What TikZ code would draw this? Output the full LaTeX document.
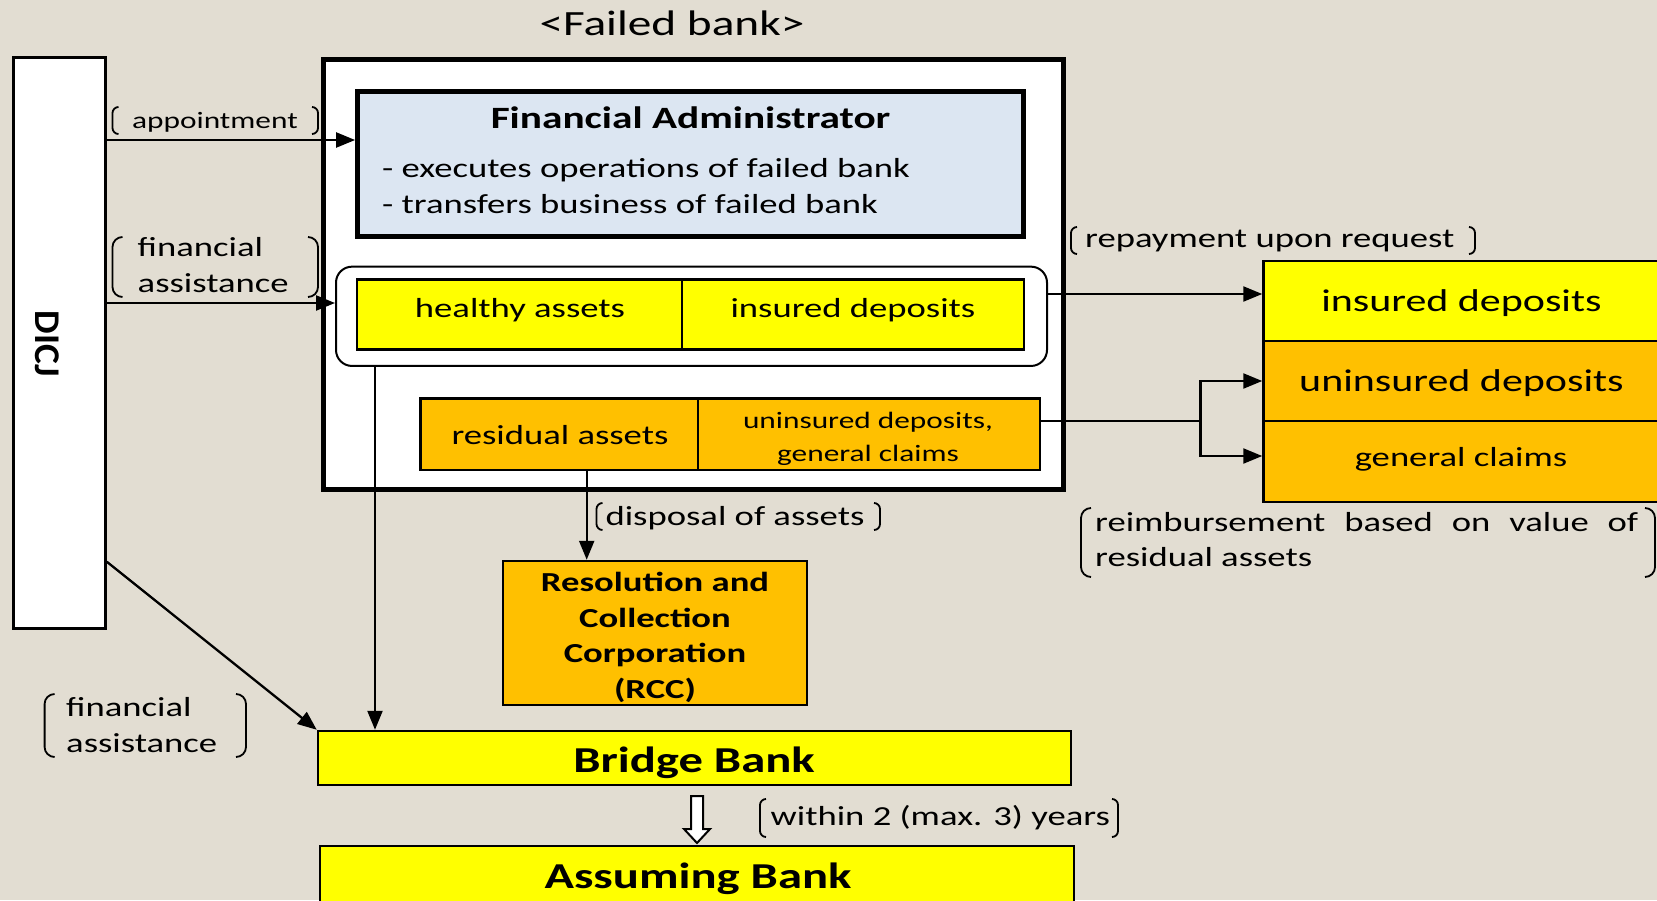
\documentclass[tikz,border=0pt]{standalone}
\usepackage{fontspec}
\setmainfont{Carlito}[FakeStretch=1.333]
\newfontfamily\plainfont{Carlito}
\usepackage{graphicx}
\usetikzlibrary{arrows.meta}
\definecolor{bg}{HTML}{E2DDD2}
\definecolor{fablue}{HTML}{DCE6F2}
\definecolor{yel}{HTML}{FFFF00}
\definecolor{org}{HTML}{FFC000}
\newcommand\fs[2]{\fontsize{#1pt}{#2pt}\selectfont}
\newcommand\bpair[5]{%
 \draw[brk, rounded corners=#5pt] (#1+#5,#2) -- (#1,#2) -- (#1,#4) -- (#1+#5,#4);
 \draw[brk, rounded corners=#5pt] (#3-#5,#2) -- (#3,#2) -- (#3,#4) -- (#3-#5,#4);}
\begin{document}
\begin{tikzpicture}[x=1pt,y=-1pt,
  box/.style={draw, line width=2.5pt, inner sep=0pt},
  thickbox/.style={draw, line width=5pt, inner sep=0pt},
  txt/.style={inner sep=0pt, anchor=base},
  arr/.style={line width=2.3pt, -{Triangle[length=19pt,width=15pt]}},
  conn/.style={line width=2.3pt},
  brk/.style={line width=1.8pt}]
\fill[bg] (0,0) rectangle (1657,900);
\useasboundingbox (0,0) rectangle (1657,900);
\clip (0,0) rectangle (1657,900);

% title
\node[txt, font=\fs{35.5}{40}] (title) at (672,35) {<Failed bank>};

% DICJ
\node[box, fill=white, minimum width=92, minimum height=571] (dicj) at (59.5,343) {};
\node[inner sep=0pt] (dicjt) at (47.5,344) {\resizebox*{24pt}{66pt}{\rotatebox{-90}{\plainfont\bfseries DICJ}}};

% failed bank frame
\node[thickbox, fill=white, minimum width=740, minimum height=430] (failed) at (693.5,274.5) {};
\node[thickbox, fill=fablue, minimum width=666, minimum height=145.3] (fa) at (690.6,164.3) {};
\node[txt, font=\fs{31}{36}\bfseries] (fat) at (690.5,128) {Financial Administrator};
\node[txt, anchor=base west, align=left, font=\fs{27.5}{36}] (fal) at (382,213) {- executes operations of failed bank\\- transfers business of failed bank};

\node[draw, line width=2pt, rounded corners=16pt, fill=white, minimum width=711, minimum height=99.3, inner sep=0pt] (rbox) at (691.5,316.3) {};
\node[box, fill=yel, minimum width=324.8, minimum height=70] (healthy) at (519.6,314.3) {};
\node[box, fill=yel, minimum width=341.9, minimum height=70] (insd) at (852.95,314.3) {};
\node[txt, font=\fs{27.5}{33}] (healthyt) at (520,317) {healthy assets};
\node[txt, font=\fs{27.5}{33}] (insdt) at (853,317) {insured deposits};

\node[box, fill=org, minimum width=277.6, minimum height=71.7] (resid) at (559.2,434.15) {};
\node[box, fill=org, minimum width=341.8, minimum height=71.7] (unc) at (868.9,434.15) {};
\node[txt, font=\fs{27.5}{33}] (residt) at (560,444) {residual assets};
\node[txt, align=center, font=\fs{23.5}{33}] (unct) at (868,461) {uninsured deposits,\\general claims};

% right stack
\node[box, fill=yel, minimum width=398.5, minimum height=80] (insR) at (1462.75,301) {};
\node[box, fill=org, minimum width=398.5, minimum height=80] (uninsR) at (1462.75,381) {};
\node[box, fill=org, minimum width=398.5, minimum height=81] (gcR) at (1462.75,461.5) {};
\node[txt, font=\fs{31.5}{36}] (insRt) at (1461.5,311) {insured deposits};
\node[txt, font=\fs{31.5}{36}] (uninsRt) at (1461.5,391) {uninsured deposits};
\node[txt, font=\fs{27.5}{33}] (gcRt) at (1461,466.7) {general claims};

% RCC
\node[box, fill=org, minimum width=304.4, minimum height=144] (rcc) at (655,633) {};
\node[txt, align=center, font=\fs{27.5}{35.5}\bfseries] (rcct) at (655,698.2) {Resolution and\\Collection\\Corporation\\(RCC)};

% bridge / assuming
\node[box, fill=yel, minimum width=753, minimum height=54] (bridge) at (694.5,758) {};
\node[txt, font=\fs{36.5}{40}\bfseries] (bridget) at (694,772.7) {Bridge Bank};
\node[box, fill=yel, minimum width=754, minimum height=84] (assume) at (697,888) {};
\node[txt, font=\fs{36.5}{40}\bfseries] (assumet) at (698,888.3) {Assuming Bank};

% labels
\node[txt, font=\fs{23.5}{30}] (lapp) at (215,128) {appointment};
\bpair{112.5}{107}{318}{134}{6}
\node[txt, anchor=base west, align=left, font=\fs{27.5}{36}] (lfa1) at (137.5,292.5) {financial\\assistance};
\bpair{112.5}{237}{318}{297}{10}
\node[txt, anchor=base west, align=left, font=\fs{27.5}{36}] (lfa2) at (66,752) {financial\\assistance};
\bpair{44.6}{694}{246}{757}{10}
\node[txt, anchor=base west, font=\fs{27.5}{33}] (lrep) at (1085,247) {repayment upon request};
\bpair{1071}{227}{1475}{254}{6}
\node[txt, anchor=base west, font=\fs{27.5}{33}] (ldis) at (605.4,525) {disposal of assets};
\bpair{596.5}{503}{880}{530}{6}
\node[txt, anchor=base west, align=left, font=\fs{27.5}{35}] (lreim) at (1095,566.7) {\makebox[543pt]{reimbursement\hfill based\hfill on\hfill value\hfill of}\\residual assets};
\bpair{1081}{508}{1655}{577}{10}
\node[txt, anchor=base west, font=\fs{27.5}{33}] (lwith) at (770.5,825) {within 2 (max. 3) years};
\bpair{760}{799}{1118}{837}{6}

% connectors
\draw[arr] (dicj.east |- 0,140) -- (fa.west |- 0,140);
\draw[arr] (dicj.east |- 0,303) -- (rbox.west |- 0,303);
\draw[arr] (dicj.east |- 0,561.7) -- (bridge.north west);
\draw[arr] (rbox.south -| 375,0) -- (bridge.north -| 375,0);
\draw[arr] (rbox.east |- 0,294) -- (insR.west |- 0,294);
\coordinate (sp) at (1200.5,421);
\draw[conn] (unc.east |- sp) -- (sp);
\draw[arr] (sp) |- (uninsR.west);
\draw[arr] (sp) |- (gcR.west |- 0,456);
\draw[arr] (resid.south -| 586.7,0) -- (rcc.north -| 586.7,0);

% hollow block arrow bridge -> assuming
\draw[line width=2pt, fill=white, line join=miter]
  (691,796) -- (703,796) -- (703,829) -- (710,829) -- (697,843) -- (684,829) -- (691,829) -- cycle;
\end{tikzpicture}
\end{document}
